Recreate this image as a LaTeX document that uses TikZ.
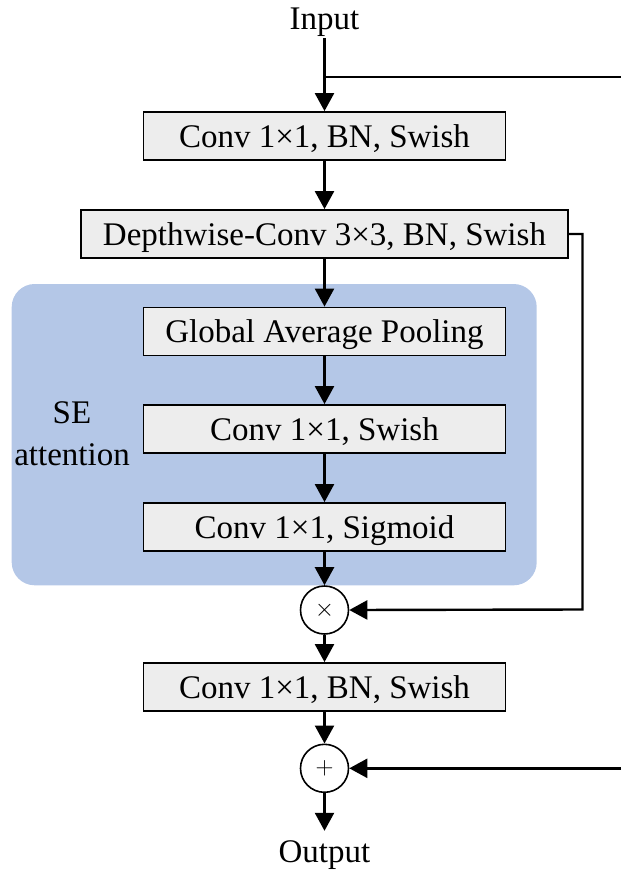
\documentclass[tikz,border=0pt]{standalone}
\usepackage{fontspec}
\setmainfont{Liberation Serif}
\usetikzlibrary{arrows.meta}
\definecolor{sebg}{HTML}{B4C7E7}
\definecolor{boxfill}{HTML}{EDEDED}
\begin{document}
\begin{tikzpicture}[x=1pt,y=-1pt,
  font=\fontsize{33}{39}\selectfont,
  blk/.style={draw=black, line width=1.8pt, fill=boxfill, minimum height=48pt,
    inner sep=0pt, text height=22.5pt, text depth=0pt, anchor=center},
  op/.style={draw=black, line width=1.6pt, fill=white, circle, minimum size=48pt, inner sep=0pt},
  lbl/.style={inner sep=0pt, inner ysep=9pt, text height=22pt, text depth=0pt, anchor=base},
  conn/.style={line width=2.4pt, -{Triangle[length=18pt,width=19pt]}},
  plain/.style={line width=2.4pt}]
\useasboundingbox (0,0) rectangle (621,872);
% SE attention background
\fill[sebg, rounded corners=23pt] (11.7,284) rectangle (536.7,585.3);
% nodes
\node[lbl] (in) at (324.5,29.2) {Input};
\node[blk, minimum width=362pt] (b1) at (324.5,136) {Conv 1×1, BN, Swish};
\node[blk, minimum width=487pt] (b2) at (324.5,234) {Depthwise-Conv 3×3, BN, Swish};
\node[blk, minimum width=362pt] (gap) at (324.5,331.5) {Global Average Pooling};
\node[blk, minimum width=362pt] (c2) at (324.5,429) {Conv 1×1, Swish};
\node[blk, minimum width=362pt] (sg) at (324.5,527) {Conv 1×1, Sigmoid};
\node[op] (mul) at (324.5,610) {\fontsize{24}{24}\selectfont$\times$};
\node[blk, minimum width=362pt] (b4) at (324.5,687) {Conv 1×1, BN, Swish};
\node[op] (add) at (324.5,768.3) {\fontsize{28}{28}\selectfont$+$};
\node[lbl] (out) at (324.5,862) {Output};
\node[inner sep=0pt, anchor=base] (se1) at (72,423) {SE};
\node[inner sep=0pt, anchor=base] (se2) at (72,465) {attention};
% coordinates
\coordinate (br) at (324.5,77.3);
\coordinate (brR) at (621,77.3);
\coordinate (sd1) at (582.5,234);
\coordinate (sd2) at (582.5,609.5);
\coordinate (addR) at (621,768.3);
% connectors
\draw[conn] (in.south) -- (b1.north);
\draw[plain] (br) -- (brR);
\draw[conn] (b1.south) -- (b2.north);
\draw[conn] (b2.south) -- (gap.north);
\draw[conn] (gap.south) -- (c2.north);
\draw[conn] (c2.south) -- (sg.north);
\draw[conn] (sg.south) -- (mul.north);
\draw[conn] (b2.east) -- (sd1) -- (sd2) -- (mul.east);
\draw[conn] (mul.south) -- (b4.north);
\draw[conn] (b4.south) -- (add.north);
\draw[conn] (addR) -- (add.east);
\draw[conn] (add.south) -- (out.north);
\end{tikzpicture}
\end{document}
